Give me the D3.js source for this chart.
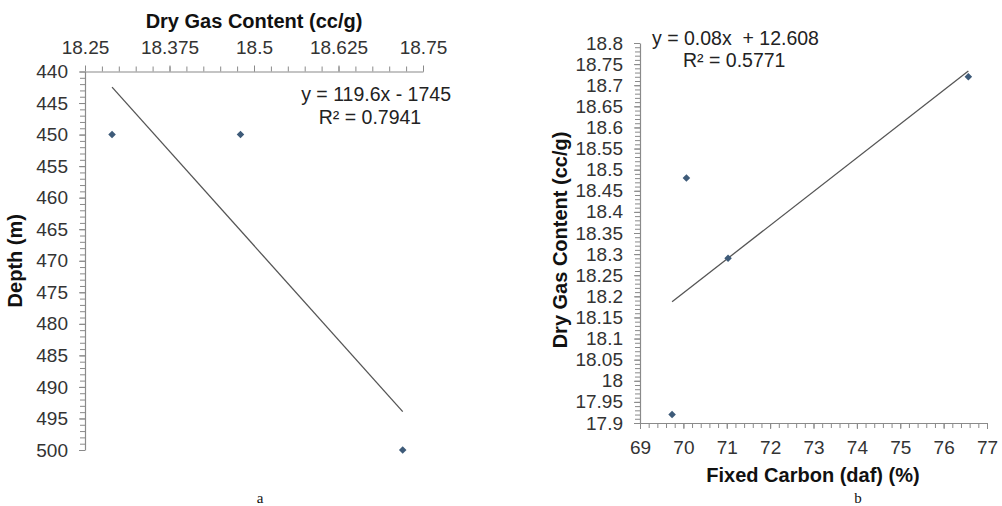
<!DOCTYPE html>
<html>
<head>
<meta charset="utf-8">
<script src="https://cdn.jsdelivr.net/npm/d3@7"></script>
<style>
  html, body { margin: 0; padding: 0; background: #fff; }
  svg { display: block; }
  text { font-family: "Liberation Sans", Arial, sans-serif; }
</style>
</head>
<body>
<svg id="chart" width="1002" height="506"></svg>
<script>
// ---- Panel a: dry gas content vs depth ----
const gasA = [18.29, 18.48, 18.72];
const depthA = [450, 450, 500];
const gasTicksA = [18.25, 18.375, 18.5, 18.625, 18.75];
const gasTickLabelsA = ["18.25", "18.375", "18.5", "18.625", "18.75"];
const depthTicksA = [440, 445, 450, 455, 460, 465, 470, 475, 480, 485, 490, 495, 500];
const trendA = { slope: 119.6, intercept: -1745 };
const eqA = ["y = 119.6x - 1745", "R² = 0.7941"];

// ---- Panel b: fixed carbon vs dry gas content ----
const carbonB = [69.74, 70.07, 71.03, 76.57];
const gasB = [17.92, 18.48, 18.29, 18.72];
const carbonTicksB = [69, 70, 71, 72, 73, 74, 75, 76, 77];
const gasTicksB = [18.8, 18.75, 18.7, 18.65, 18.6, 18.55, 18.5, 18.45, 18.4, 18.35,
                   18.3, 18.25, 18.2, 18.15, 18.1, 18.05, 18, 17.95, 17.9];
const trendB = { slope: 0.08, intercept: 12.608 };
const eqB = ["y = 0.08x  + 12.608", "R² = 0.5771"];

const svg = d3.select("#chart");
const axisColor = "#8a8a8a";
const labelColor = "#333";
const markerColor = "#3e5b79";
const lineColor = "#555";
const tickFont = 19;
const eqFont = 19.5;
const titleFont = 20;

function styleAxis(g, fontSize) {
  g.select(".domain").attr("stroke", axisColor).attr("stroke-width", 1.2);
  g.selectAll(".tick line").attr("stroke", axisColor).attr("stroke-width", 1);
  g.selectAll(".tick text")
    .attr("fill", labelColor)
    .style("font-size", fontSize + "px")
    .style("font-family", '"Liberation Sans", Arial, sans-serif');
}
function minorAxis(g) {
  g.select(".domain").remove();
  g.selectAll(".tick line").attr("stroke", axisColor).attr("stroke-width", 1);
}

const diamond = d3.symbol().type(d3.symbolDiamond2).size(36);

// ================= Panel a =================
const xA = d3.scaleLinear().domain([18.25, 18.75]).range([85, 423]);
const yA = d3.scaleLinear().domain([440, 500]).range([71.5, 450]);

// minor ticks
svg.append("g").attr("transform", `translate(0,${yA(440)})`)
  .call(d3.axisTop(xA).tickValues(d3.range(0, 21).map(i => 18.25 + i * 0.025))
    .tickSize(5).tickFormat(""))
  .call(minorAxis);
svg.append("g").attr("transform", `translate(${xA(18.25)},0)`)
  .call(d3.axisLeft(yA).tickValues(d3.range(440, 501, 1)).tickSize(5).tickFormat(""))
  .call(minorAxis);

// major axes
svg.append("g").attr("transform", `translate(0,${yA(440)})`)
  .call(d3.axisTop(xA).tickValues(gasTicksA).tickSize(6).tickSizeOuter(0).tickPadding(12)
    .tickFormat((d, i) => gasTickLabelsA[i]))
  .call(g => styleAxis(g, tickFont));
svg.append("g").attr("transform", `translate(${xA(18.25)},0)`)
  .call(d3.axisLeft(yA).tickValues(depthTicksA).tickSize(6).tickSizeOuter(0).tickPadding(11)
    .tickFormat(d3.format("d")))
  .call(g => styleAxis(g, tickFont));

// axis titles
svg.append("text").attr("x", 254).attr("y", 28).attr("text-anchor", "middle")
  .style("font-size", titleFont + "px").style("font-weight", "bold").attr("fill", "#111")
  .text("Dry Gas Content (cc/g)");
svg.append("text").attr("transform", `translate(22,${(yA(440) + yA(500)) / 2}) rotate(-90)`)
  .attr("text-anchor", "middle")
  .style("font-size", titleFont + "px").style("font-weight", "bold").attr("fill", "#111")
  .text("Depth (m)");

// trendline over the data range
const xExtA = d3.extent(gasA);
svg.append("line")
  .attr("x1", xA(xExtA[0])).attr("y1", yA(trendA.slope * xExtA[0] + trendA.intercept))
  .attr("x2", xA(xExtA[1])).attr("y2", yA(trendA.slope * xExtA[1] + trendA.intercept))
  .attr("stroke", lineColor).attr("stroke-width", 1.3);

svg.append("g").selectAll("path").data(gasA).join("path")
  .attr("d", diamond)
  .attr("transform", (d, i) => `translate(${xA(d)},${yA(depthA[i])})`)
  .attr("fill", markerColor);

svg.append("text").attr("x", 451).attr("y", 101).attr("text-anchor", "end")
  .style("font-size", eqFont + "px").attr("fill", "#222").text(eqA[0]);
svg.append("text").attr("x", 370).attr("y", 124).attr("text-anchor", "middle")
  .style("font-size", eqFont + "px").attr("fill", "#222").text(eqA[1]);

svg.append("text").attr("x", 260).attr("y", 503).attr("text-anchor", "middle")
  .style("font-family", '"Liberation Serif", "Times New Roman", serif')
  .style("font-size", "15px").attr("fill", "#111").text("a");

// ================= Panel b =================
const xB = d3.scaleLinear().domain([69, 77]).range([640, 987]);
const yB = d3.scaleLinear().domain([17.9, 18.8]).range([423, 43]);

svg.append("g").attr("transform", `translate(0,${yB(17.9)})`)
  .call(d3.axisBottom(xB).tickValues(d3.range(0, 41).map(i => 69 + i * 0.2))
    .tickSize(5).tickFormat(""))
  .call(minorAxis);
svg.append("g").attr("transform", `translate(${xB(69)},0)`)
  .call(d3.axisLeft(yB).tickValues(d3.range(0, 91).map(i => 17.9 + i * 0.01))
    .tickSize(5).tickFormat(""))
  .call(minorAxis);

svg.append("g").attr("transform", `translate(0,${yB(17.9)})`)
  .call(d3.axisBottom(xB).tickValues(carbonTicksB).tickSize(6).tickSizeOuter(0).tickPadding(12)
    .tickFormat(d3.format("d")))
  .call(g => styleAxis(g, tickFont));
svg.append("g").attr("transform", `translate(${xB(69)},0)`)
  .call(d3.axisLeft(yB).tickValues(gasTicksB).tickSize(6).tickSizeOuter(0).tickPadding(11)
    .tickFormat(d => String(+d.toFixed(2))))
  .call(g => styleAxis(g, tickFont));

svg.append("text").attr("x", 813).attr("y", 482).attr("text-anchor", "middle")
  .style("font-size", titleFont + "px").style("font-weight", "bold").attr("fill", "#111")
  .text("Fixed Carbon (daf) (%)");
svg.append("text").attr("transform", `translate(567,240) rotate(-90)`)
  .attr("text-anchor", "middle")
  .style("font-size", titleFont + "px").style("font-weight", "bold").attr("fill", "#111")
  .text("Dry Gas Content (cc/g)");

const xExtB = d3.extent(carbonB);
svg.append("line")
  .attr("x1", xB(xExtB[0])).attr("y1", yB(trendB.slope * xExtB[0] + trendB.intercept))
  .attr("x2", xB(xExtB[1])).attr("y2", yB(trendB.slope * xExtB[1] + trendB.intercept))
  .attr("stroke", lineColor).attr("stroke-width", 1.3);

svg.append("g").selectAll("path").data(carbonB).join("path")
  .attr("d", diamond)
  .attr("transform", (d, i) => `translate(${xB(d)},${yB(gasB[i])})`)
  .attr("fill", markerColor);

svg.append("text").attr("x", 652).attr("y", 45).style("white-space", "pre")
  .style("font-size", eqFont + "px").attr("fill", "#222").text(eqB[0]);
svg.append("text").attr("x", 683).attr("y", 67)
  .style("font-size", eqFont + "px").attr("fill", "#222").text(eqB[1]);

svg.append("text").attr("x", 858).attr("y", 503).attr("text-anchor", "middle")
  .style("font-family", '"Liberation Serif", "Times New Roman", serif')
  .style("font-size", "15px").attr("fill", "#111").text("b");
</script>
</body>
</html>
